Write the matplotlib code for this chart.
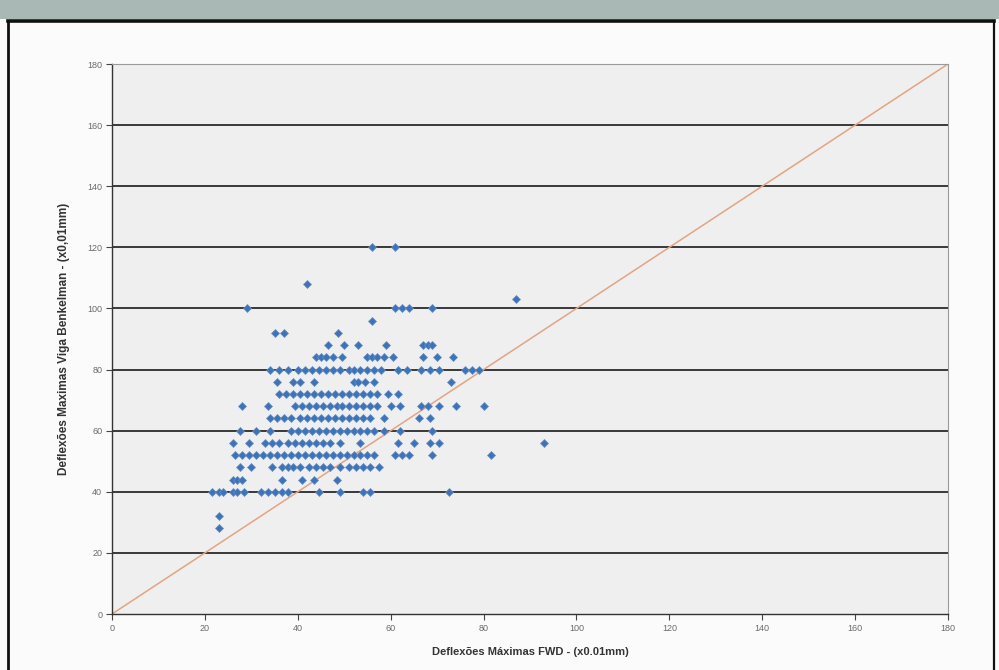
import matplotlib
matplotlib.use("Agg")
import matplotlib.pyplot as plt
from matplotlib.patches import Rectangle
from matplotlib.lines import Line2D

# Deflexões FWD (x) agrupadas pela leitura da viga Benkelman (y)
fwd_120 = [56, 61]
fwd_108 = [42]
fwd_103 = [87]
fwd_100 = [29, 61, 62.5, 64, 69]
fwd_96 = [56]
fwd_92 = [35, 37, 48.7]
fwd_88 = [46.5, 50, 53, 59, 67, 68, 69]
fwd_84 = [44, 45, 46, 47.5, 49.5, 55, 56, 57, 58.5, 60.5, 67, 70, 73.5]
fwd_80 = [34, 36, 38, 40, 41.5, 43, 44.5, 46, 47.5, 49, 51, 52, 53.5, 55,
          56.5, 58, 61.5, 63.5, 66.5, 68.5, 70.5, 76, 77.5, 79]
fwd_76 = [35.5, 39, 40.5, 43.5, 52, 53, 54.5, 56.5, 73]
fwd_72 = [36, 37.5, 39, 40.5, 42, 43.5, 45, 46.5, 48, 49.5, 51, 52.5, 54,
          55.5, 57, 59.5, 61.5]
fwd_68 = [28, 33.5, 39.5, 41, 42.5, 44, 45.5, 47, 48.5, 49.5, 51, 52.5, 54,
          55.5, 57, 60, 62, 66.5, 68, 70.5, 74, 80]
fwd_64 = [34, 35.5, 37, 38.5, 40.5, 42, 43.5, 45, 46.5, 48, 49.5, 51, 52.5,
          54, 55.5, 58.5, 66, 68.5]
fwd_60 = [27.5, 31, 34, 38.5, 40, 41.5, 43, 44.5, 46, 47.5, 49, 50.5, 52,
          53.5, 55, 56.5, 58.5, 62, 69]
fwd_56 = [26, 29.5, 33, 34.5, 36, 38, 39.5, 41, 42.5, 44, 45.5, 47, 49,
          53.5, 61.5, 65, 68.5, 70.5, 93]
fwd_52 = [26.5, 28, 29.5, 31, 32.5, 34, 35.5, 37, 38.5, 40, 41.5, 43, 44.5,
          46, 47.5, 49, 50.5, 52, 53.5, 55, 56.5, 61, 62.5, 64, 69, 81.5]
fwd_48 = [27.5, 30, 34.5, 36.5, 38, 39, 40.5, 42.5, 44, 45.5, 47, 49, 51,
          52.5, 54, 55.5, 57.5]
fwd_44 = [26, 27, 28, 36.5, 41, 43.5, 48.5]
fwd_40 = [21.5, 23, 24, 26, 27, 28.5, 32, 33.5, 35, 36.5, 38, 44.5, 49, 54,
          55.5, 72.5]
fwd_32 = [23]
fwd_28 = [23]

levels = [120, 108, 103, 100, 96, 92, 88, 84, 80, 76, 72, 68, 64, 60, 56,
          52, 48, 44, 40, 32, 28]
rows = [fwd_120, fwd_108, fwd_103, fwd_100, fwd_96, fwd_92, fwd_88, fwd_84,
        fwd_80, fwd_76, fwd_72, fwd_68, fwd_64, fwd_60, fwd_56, fwd_52,
        fwd_48, fwd_44, fwd_40, fwd_32, fwd_28]

x = []
y = []
for lvl, xs in zip(levels, rows):
    x += xs
    y += [lvl] * len(xs)

ticks = list(range(0, 181, 20))

plt.rcParams['font.family'] = ['Liberation Sans', 'DejaVu Sans']

fig = plt.figure(figsize=(9.99, 6.70), dpi=100, facecolor='#fbfbfb')

# faixa superior e moldura do quadro
fig.patches.append(Rectangle((0, 1 - 19 / 670), 1, 19 / 670, transform=fig.transFigure,
                             facecolor='#a9b8b5', edgecolor='none', zorder=0))
fig.lines.append(Line2D([8 / 999, 994 / 999], [1 - 21 / 670, 1 - 21 / 670],
                        transform=fig.transFigure, color='#111111', lw=2.6))
fig.lines.append(Line2D([8 / 999, 8 / 999], [0, 1 - 21 / 670],
                        transform=fig.transFigure, color='#111111', lw=2.0))
fig.lines.append(Line2D([994 / 999, 994 / 999], [0, 1 - 21 / 670],
                        transform=fig.transFigure, color='#111111', lw=1.6))

ax = fig.add_axes([112 / 999, 56 / 670, 836 / 999, 550 / 670])
ax.set_facecolor('#eeefee')

for t in ticks[1:-1]:
    ax.axhline(t, color='#2a2a2a', lw=1.3, zorder=1)

ax.plot([0, 180], [0, 180], color='#e3a485', lw=1.1, zorder=2)
ax.plot(x, y, linestyle='none', marker='D', ms=3.9, color='#3f73b8',
        markeredgecolor='#6690c8', markeredgewidth=0.5, zorder=3)

ax.set_xlim(0, 180)
ax.set_ylim(0, 180)
ax.set_xticks(ticks)
ax.set_yticks(ticks)
ax.tick_params(direction='out', length=4, width=0.8, color='#444444',
               labelsize=6.5, labelcolor='#6a6a6a', pad=3)

for side in ['top', 'right']:
    ax.spines[side].set_color('#9a9a9a')
    ax.spines[side].set_linewidth(0.8)
for side in ['left', 'bottom']:
    ax.spines[side].set_color('#333333')
    ax.spines[side].set_linewidth(1.0)

ax.set_xlabel('Deflexões Máximas FWD - (x0.01mm)', fontsize=8, fontweight='bold',
              color='#333333', labelpad=10)
ax.set_ylabel('Deflexões Maximas Viga Benkelman - (x0,01mm)', fontsize=8.5,
              fontweight='bold', color='#333333', labelpad=12)

fig.savefig('out.png', dpi=100, facecolor=fig.get_facecolor())
